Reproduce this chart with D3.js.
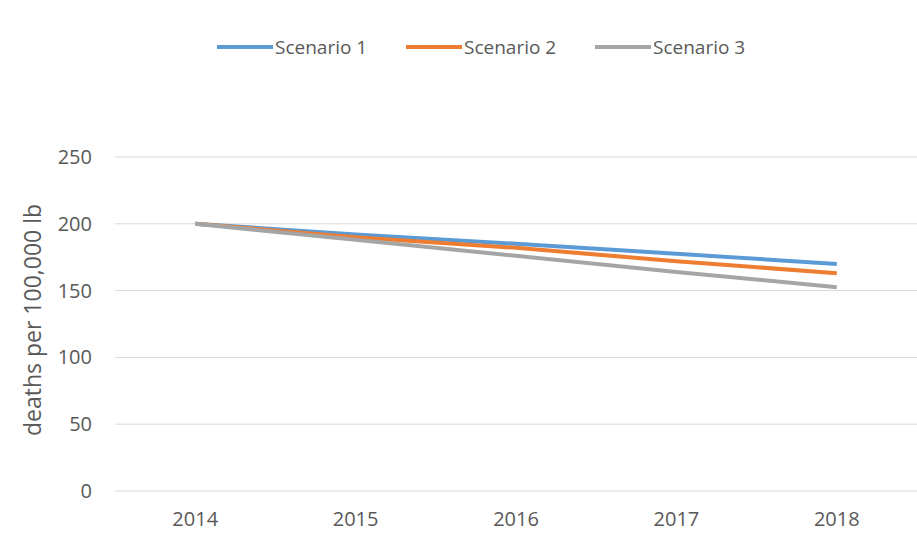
<!DOCTYPE html>
<html>
<head>
<meta charset="utf-8">
<script src="https://cdn.jsdelivr.net/npm/d3@7"></script>
<style>
  body { margin: 0; background: #fff; }
  svg { font-family: "Open Sans", "Liberation Sans", sans-serif; }
</style>
</head>
<body>
<div id="chart"></div>
<script>
// dades
const years = ["2014", "2015", "2016", "2017", "2018"];
const seriesNames = ["Scenario 1", "Scenario 2", "Scenario 3"];
const scenario1 = [200, 192, 185, 177.5, 170];
const scenario2 = [200, 190, 182, 172, 163];
const scenario3 = [200, 188, 176, 164, 152.5];
const yTicks = [0, 50, 100, 150, 200, 250];

const colors = ["#5b9bd5", "#ed7d31", "#a5a5a5"];
const seriesValues = [scenario1, scenario2, scenario3];
const fontFamily = "'Open Sans', 'Liberation Sans', sans-serif";

const W = 917, H = 538;
const margin = { top: 157, right: 0, bottom: 47, left: 115 };
const width = W - margin.left - margin.right;
const height = H - margin.top - margin.bottom;

const svg = d3.select("#chart")
    .append("svg")
        .attr("width", W)
        .attr("height", H);

const g = svg.append("g")
    .attr("transform", `translate(${margin.left}, ${margin.top})`);

// escales
const x = d3.scaleBand()
    .domain(years)
    .range([0, width]);

const y = d3.scaleLinear()
    .domain([0, 250])
    .range([height, 0]);

// graella
g.selectAll(".grid")
    .data(yTicks)
    .enter()
    .append("line")
        .attr("x1", 0)
        .attr("x2", width)
        .attr("y1", d => y(d))
        .attr("y2", d => y(d))
        .attr("stroke", "#d9d9d9")
        .attr("stroke-width", 1);

// eix Y
const yAxis = g.append("g")
    .call(d3.axisLeft(y).tickValues(yTicks).tickSize(0).tickPadding(23))
    .attr("font-family", fontFamily);
yAxis.select(".domain").remove();
yAxis.selectAll("text")
    .style("font-size", "20px")
    .style("fill", "#595959");

// eix X
const xAxis = g.append("g")
    .attr("transform", `translate(0, ${height})`)
    .call(d3.axisBottom(x).tickSize(0).tickPadding(21))
    .attr("font-family", fontFamily);
xAxis.select(".domain").remove();
xAxis.selectAll("text")
    .style("font-size", "20px")
    .style("fill", "#595959");

// titol eix Y
svg.append("text")
    .attr("transform", `translate(41, 320) rotate(-90)`)
    .attr("text-anchor", "middle")
    .style("font-size", "23px")
    .style("fill", "#595959")
    .text("deaths per 100,000 lb");

// linies
const line = d3.line()
    .x((d, i) => x(years[i]) + x.bandwidth() / 2)
    .y(d => y(d));

seriesValues.forEach((vals, i) => {
    g.append("path")
        .datum(vals)
        .attr("fill", "none")
        .attr("stroke", colors[i])
        .attr("stroke-width", 4)
        .attr("stroke-linejoin", "round")
        .attr("d", line);
});

// llegenda
const legendX = [217, 406, 595];
const legend = svg.append("g")
    .attr("transform", "translate(0, 47)");

seriesNames.forEach((name, i) => {
    legend.append("line")
        .attr("x1", legendX[i]).attr("x2", legendX[i] + 56)
        .attr("y1", 0).attr("y2", 0)
        .attr("stroke", colors[i])
        .attr("stroke-width", 4);
    legend.append("text")
        .attr("x", legendX[i] + 58)
        .attr("y", 7)
        .style("font-size", "19px")
        .style("fill", "#595959")
        .text(name);
});
</script>
</body>
</html>
